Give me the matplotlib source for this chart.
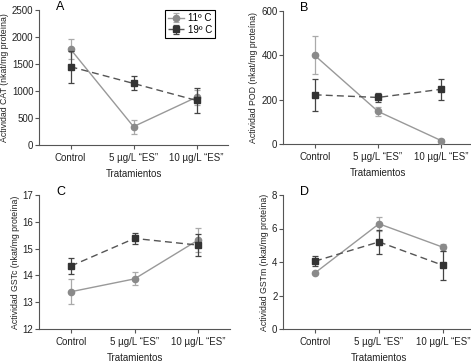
import numpy as np
import matplotlib.pyplot as plt

plt.rcParams['font.family'] = ['Liberation Sans', 'DejaVu Sans']

tratamientos = ['Control', '5 µg/L “ES”', '10 µg/L “ES”']
temps = ['11º C', '19º C']

# panel A - CAT
cat_11 = [1775, 340, 885]
cat_11_err = [185, 128, 140]
cat_19 = [1450, 1140, 825]
cat_19_err = [295, 130, 230]

# panel B - POD
pod_11 = [400, 147, 15]
pod_11_err = [85, 20, 6]
pod_19 = [222, 210, 247]
pod_19_err = [72, 22, 48]

# panel C - GSTc
gstc_11 = [13.39, 13.87, 15.32]
gstc_11_err = [0.47, 0.24, 0.46]
gstc_19 = [14.35, 15.38, 15.13]
gstc_19_err = [0.3, 0.22, 0.4]

# panel D - GSTm
gstm_11 = [3.35, 6.28, 4.88]
gstm_11_err = [0.08, 0.43, 0.2]
gstm_19 = [4.05, 5.2, 3.8]
gstm_19_err = [0.3, 0.7, 0.85]

W, H = 471, 362
fig = plt.figure(figsize=(W / 100, H / 100), dpi=100)


def make_axes(left, top, width, height):
    return fig.add_axes([left / W, (H - top - height) / H, width / W, height / H])


panels = [
    (make_axes(39, 10, 189, 135), 'A', cat_11, cat_11_err, cat_19, cat_19_err,
     'Actividad CAT (nkat/mg proteína)', (0, 2500), [0, 500, 1000, 1500, 2000, 2500]),
    (make_axes(283, 11, 190, 133), 'B', pod_11, pod_11_err, pod_19, pod_19_err,
     'Actividad POD (nkat/mg proteína)', (0, 600), [0, 200, 400, 600]),
    (make_axes(39, 195, 191, 134), 'C', gstc_11, gstc_11_err, gstc_19, gstc_19_err,
     'Actividad GSTc (nkat/mg proteína)', (12, 17), [12, 13, 14, 15, 16, 17]),
    (make_axes(283, 195, 192, 134), 'D', gstm_11, gstm_11_err, gstm_19, gstm_19_err,
     'Actividad GSTm (nkat/mg proteína)', (0, 8), [0, 2, 4, 6, 8]),
]

x = np.arange(len(tratamientos))

for ax, letra, y11, e11, y19, e19, ylabel, ylim, yticks in panels:
    ax.errorbar(x, y11, yerr=e11, color='#999999', ecolor='#aaaaaa', lw=1.0,
                marker='o', ms=4.5, mfc='#8a8a8a', mec='#8a8a8a',
                capsize=2.5, elinewidth=0.9, capthick=0.9, label=temps[0], zorder=3)
    ax.errorbar(x, y19, yerr=e19, color='#555555', ecolor='#444444', lw=1.0,
                ls=(0, (5, 3)), marker='s', ms=4.5, mfc='#333333', mec='#333333',
                capsize=2.5, elinewidth=0.9, capthick=0.9, label=temps[1], zorder=4)
    ax.set_xlim(-0.5, 2.5)
    ax.set_ylim(*ylim)
    ax.set_yticks(yticks)
    ax.set_xticks(x)
    ax.set_xticklabels(tratamientos, fontsize=7, color='#222222')
    ax.tick_params(axis='y', labelsize=7, length=3, width=0.8, color='#555555',
                   pad=1, labelcolor='#222222')
    ax.tick_params(axis='x', length=3, width=0.8, color='#555555', pad=3)
    ax.set_ylabel(ylabel, fontsize=6.3, labelpad=2, color='#222222')
    ax.set_xlabel('Tratamientos', fontsize=7, labelpad=4, color='#222222')
    for s in ['top', 'right']:
        ax.spines[s].set_visible(False)
    for s in ['left', 'bottom']:
        ax.spines[s].set_color('#555555')
        ax.spines[s].set_linewidth(0.8)
    ax.text(0.09, 1.02, letra, transform=ax.transAxes, fontsize=9, va='center')

leg = panels[0][0].legend(loc='upper right', bbox_to_anchor=(0.93, 1.0), fontsize=7,
                          fancybox=False, edgecolor='black', framealpha=1,
                          handlelength=1.6, borderpad=0.3, labelspacing=0.2,
                          handletextpad=0.4, borderaxespad=0)
leg.get_frame().set_linewidth(0.8)

fig.savefig('out.png', dpi=100)
